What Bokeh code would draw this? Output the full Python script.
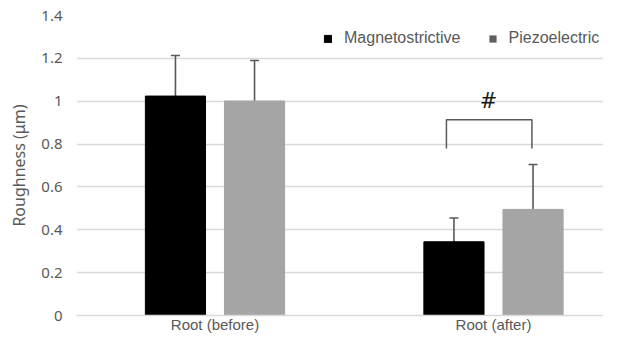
from bokeh.plotting import figure
from bokeh.models import (ColumnDataSource, Range1d, FixedTicker, CustomJSTickFormatter,
                          Whisker, TeeHead, Legend, LegendItem)
from bokeh.core.properties import value
from bokeh.embed import file_html
from bokeh.resources import INLINE

# ---- data ----
categories = ["Root (before)", "Root (after)"]
series = ["Magnetostrictive", "Piezoelectric"]
magneto_mean = [1.024, 0.344]
magneto_low = [0.851, 0.246]
magneto_high = [1.213, 0.455]
piezo_mean = [1.001, 0.495]
piezo_low = [0.814, 0.290]
piezo_high = [1.190, 0.705]
y_ticks = [0, 0.2, 0.4, 0.6, 0.8, 1.0, 1.2, 1.4]
# significance bracket over "Root (after)"
bracket_category = 1
bracket_top = 0.914
bracket_bottom = 0.779
bracket_mark = "#"

# ---- styles ----
BLACK = "#000000"
GRAY = "#A5A5A5"
SWATCH_GRAY = "#606060"
TXT = "#595959"
GRID = "#D9D9D9"
off = 0.142
bw = 0.216

idx = list(range(len(categories)))
src_m = ColumnDataSource(dict(x=[i - off for i in idx], top=magneto_mean,
                              lo=magneto_low, hi=magneto_high))
src_p = ColumnDataSource(dict(x=[i + off for i in idx], top=piezo_mean,
                              lo=piezo_low, hi=piezo_high))

p = figure(width=603, height=335, output_backend="svg", toolbar_location=None,
           x_range=Range1d(-0.4973, 1.3950), y_range=Range1d(0, 1.4),
           min_border_left=76, min_border_right=0, min_border_top=15,
           min_border_bottom=17)
p.outline_line_color = None
p.background_fill_color = "white"
p.border_fill_color = "white"

r_m = p.vbar(x="x", top="top", width=bw, source=src_m, fill_color=BLACK,
             line_color=BLACK)
# legend swatch for the second series (darker in the legend); hidden under the bars
r_p_swatch = p.vbar(x="x", top="top", width=bw * 0.9, source=src_p,
                    fill_color=SWATCH_GRAY, line_color=None)
r_p = p.vbar(x="x", top="top", width=bw, source=src_p, fill_color=GRAY,
             line_color=GRAY)

for src in (src_m, src_p):
    w = Whisker(base="x", lower="lo", upper="hi", source=src, dimension="height",
                line_color=TXT, line_width=1.6,
                upper_head=TeeHead(size=9, line_color=TXT, line_width=1.6),
                lower_head=TeeHead(size=9, line_color=TXT, line_width=1.6))
    p.add_layout(w)

# bracket
bx0 = bracket_category - 0.169
bx1 = bracket_category + 0.138
p.line(x=[bx0, bx0, bx1, bx1], y=[bracket_bottom, bracket_top, bracket_top, bracket_bottom],
       line_color=TXT, line_width=1.5)
p.text(x=[bracket_category - 0.018], y=[1.0], text=[bracket_mark],
       text_font=value("DejaVu Sans"), text_font_size="21px", text_color="#1a1a1a",
       text_align="center", text_baseline="middle")

# axes
p.yaxis.ticker = FixedTicker(ticks=y_ticks)
p.yaxis.formatter = CustomJSTickFormatter(
    code="return tick.toFixed(1).replace(/\\.0$/, '');")
p.yaxis.axis_line_color = None
p.yaxis.major_tick_line_color = None
p.yaxis.minor_tick_line_color = None
p.yaxis.major_tick_out = 0
p.yaxis.major_label_standoff = 14
p.yaxis.major_label_text_font = "Noto Sans"
p.yaxis.major_label_text_font_size = "15px"
p.yaxis.major_label_text_color = TXT
p.yaxis.axis_label = "Roughness (μm)"
p.yaxis.axis_label_text_font = "Noto Sans"
p.yaxis.axis_label_text_font_size = "16px"
p.yaxis.axis_label_text_font_style = "normal"
p.yaxis.axis_label_text_color = TXT
p.yaxis.axis_label_standoff = 8

p.xaxis.ticker = FixedTicker(ticks=idx)
p.xaxis.major_label_overrides = {i: c for i, c in zip(idx, categories)}
p.xaxis.axis_line_color = GRID
p.xaxis.axis_line_width = 1.5
p.xaxis.major_tick_line_color = None
p.xaxis.minor_tick_line_color = None
p.xaxis.major_tick_out = 0
p.xaxis.major_tick_in = 0
p.xaxis.major_label_standoff = 0
p.xaxis.major_label_text_font = "Liberation Sans"
p.xaxis.major_label_text_font_size = "15px"
p.xaxis.major_label_text_color = TXT

p.xgrid.grid_line_color = None
p.ygrid.grid_line_color = GRID
p.ygrid.grid_line_width = 1.5

legend = Legend(items=[LegendItem(label=series[0], renderers=[r_m]),
                       LegendItem(label=series[1], renderers=[r_p_swatch])],
                orientation="horizontal", location=(247, 268),
                glyph_width=9, glyph_height=9, label_standoff=12, spacing=27,
                padding=0, margin=0, label_height=16,
                label_text_font="Liberation Sans", label_text_font_size="16px",
                label_text_color=TXT, border_line_color=None,
                background_fill_alpha=0)
p.add_layout(legend)

open("out.html", "w").write(file_html(p, INLINE))
